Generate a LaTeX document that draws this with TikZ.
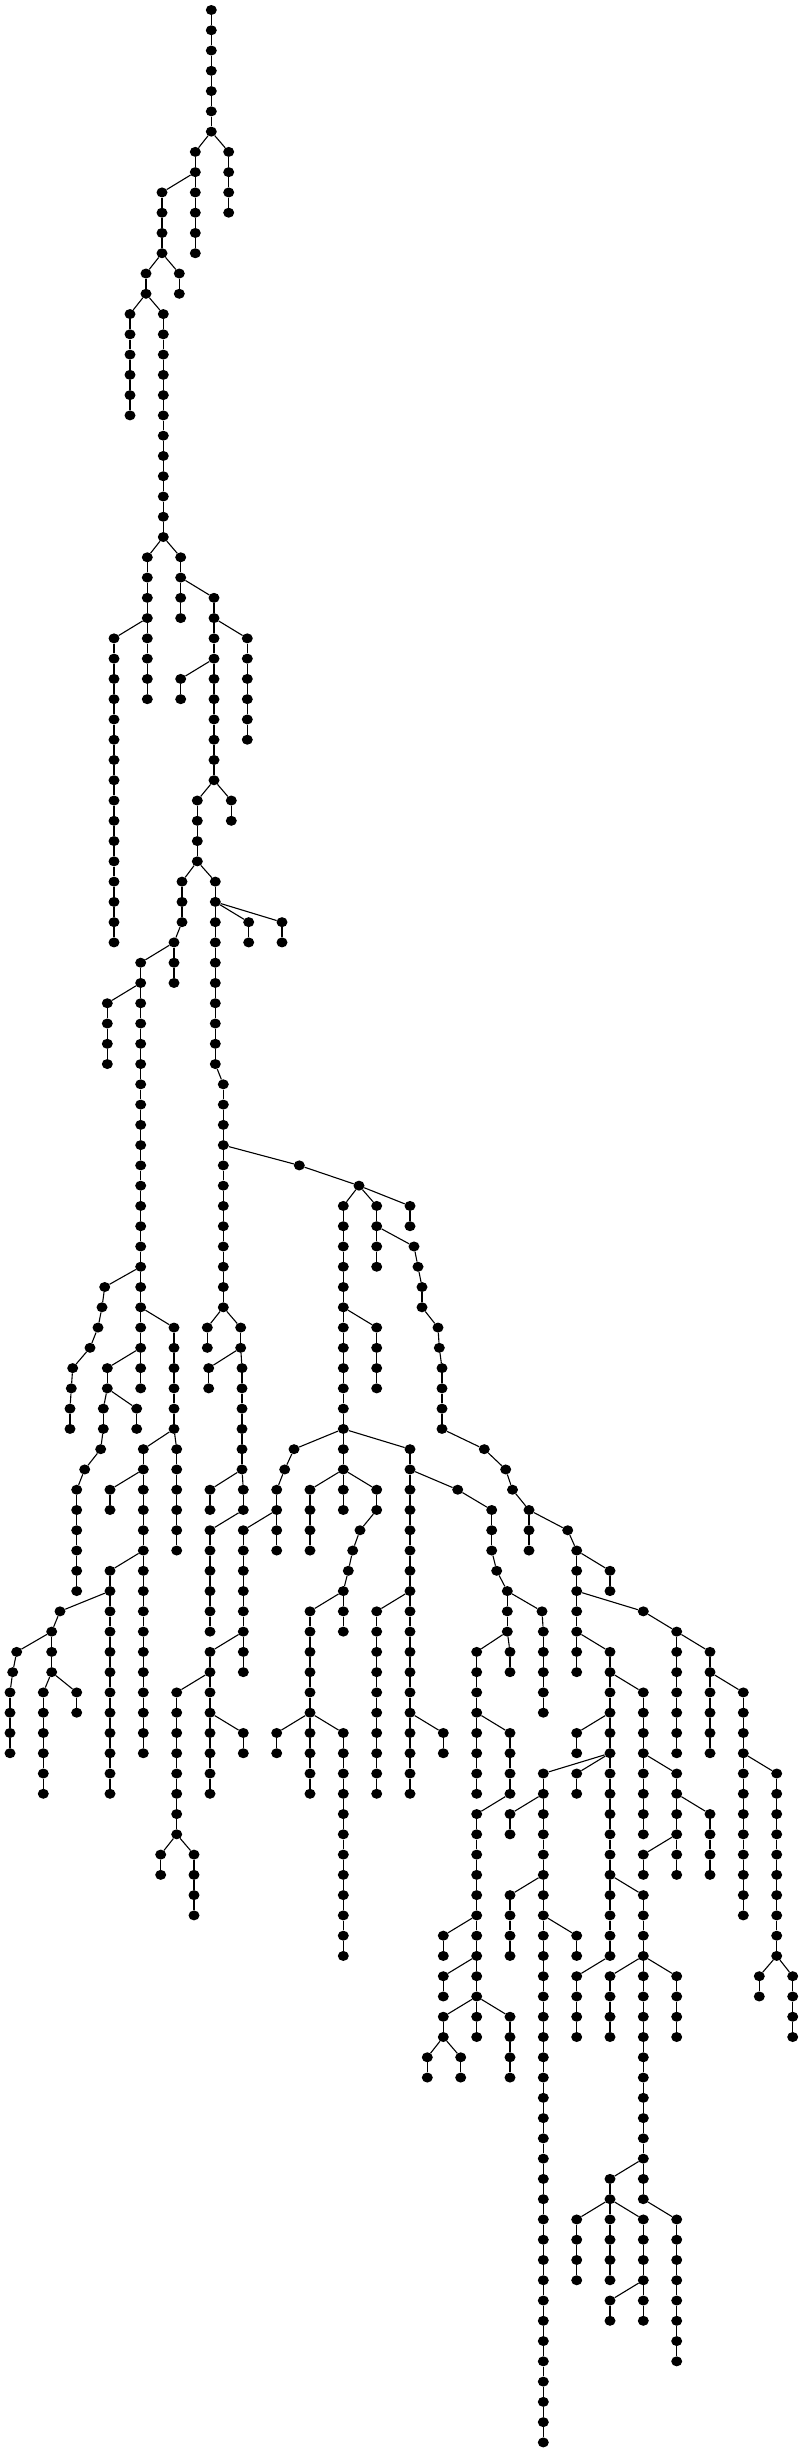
\documentclass[tikz,border=0pt]{standalone}
\usetikzlibrary{shapes.geometric}
\begin{document}
\begin{tikzpicture}[x=1pt,y=1pt,
  dot/.style={ellipse,fill=black,draw=none,inner sep=0pt,minimum width=11pt,minimum height=10pt},
  edge/.style={draw=black,line width=1.1pt}]
\useasboundingbox[fill=white] (0,0) rectangle (803,-2452);
\newcommand\nd[4]{\node[dot] (#1) at (#2,{-10-20.27*#3}) {}; \draw[edge] (#4) -- (#1);}
\newcommand\ch[5]{%
  \foreach \lv in {#4,...,#5}{%
    \node[dot] (#1-\lv) at (#3,{-10-20.27*\lv}) {};%
    \pgfmathtruncatemacro\pd{\lv-1}%
    \ifnum\lv=#4\relax \draw[edge] (#2) -- (#1-\lv);\else \draw[edge] (#1-\pd) -- (#1-\lv);\fi
  }}
\node[dot] (R-0) at (211.3,-10) {};
\ch{R}{R-0}{211.3}{1}{6}
\ch{A}{R-6}{228.7}{7}{10}
\ch{B}{R-6}{195.3}{7}{12}
\ch{C}{B-8}{162}{9}{12}
\ch{D}{C-12}{179.3}{13}{14}
\ch{E}{C-12}{146}{13}{14}
\ch{F}{E-14}{130}{15}{20}
\ch{G}{E-14}{163.3}{15}{26}
\ch{H}{G-26}{147.3}{27}{34}
\ch{I}{G-26}{180.7}{27}{30}
\ch{J}{I-28}{214}{29}{38}
\ch{K}{H-30}{114}{31}{46}
\ch{L}{J-30}{247.3}{31}{36}
\ch{M}{J-32}{180.7}{33}{34}
\ch{N}{J-38}{231.3}{39}{40}
\ch{O}{J-38}{197.3}{39}{42}
\ch{P}{O-42}{215.3}{43}{52}
\ch{Q}{P-44}{248.7}{45}{46}
\ch{S}{P-44}{282}{45}{46}
\ch{T}{P-52}{223.3}{53}{64}
\ch{X}{O-42}{182}{43}{45}
\ch{Y}{X-45}{174}{46}{48}
\ch{Z}{Y-46}{140.7}{47}{68}
\ch{ka}{Z-48}{107.3}{49}{52}
\nd{sk1}{104.7}{63}{Z-62}
\nd{sk2}{102}{64}{sk1}
\nd{sk3}{98}{65}{sk2}
\nd{sk4}{90}{66}{sk3}
\nd{sk5}{72.7}{67}{sk4}
\nd{sk6}{71.3}{68}{sk5}
\ch{sk}{sk6}{70}{69}{70}
\ch{cb}{Z-64}{174}{65}{70}
\ch{cc}{cb-70}{176.7}{71}{76}
\ch{cd}{cb-70}{143.3}{71}{86}
\ch{ce}{cd-72}{110}{73}{74}
\ch{cf}{cd-76}{110}{77}{88}
\nd{cg}{60}{79}{cf-78}
\nd{chh}{51.7}{80}{cg}
\nd{ci1}{16.7}{81}{chh}
\nd{ci2}{12.7}{82}{ci1}
\ch{ci}{ci2}{10}{83}{86}
\ch{cj}{chh}{51.7}{81}{82}
\ch{ck}{cj-82}{43.3}{83}{88}
\ch{cl}{cj-82}{76.7}{83}{84}
\ch{da}{Z-66}{107.3}{67}{68}
\ch{db}{da-68}{136.7}{69}{70}
\ch{dc}{da-68}{103.3}{69}{70}
\nd{dc1}{100.7}{71}{dc-70}
\nd{dc2}{84.7}{72}{dc1}
\ch{dd}{dc2}{76.7}{73}{78}
% right part
\nd{ua}{299.3}{57}{T-56}
\nd{ub}{359}{58}{ua}
\ch{uc}{ub}{343.3}{59}{70}
\ch{ud}{ub}{376.7}{59}{62}
\ch{ue}{ub}{410}{59}{60}
\ch{va}{T-64}{207.3}{65}{66}
\ch{wa}{T-64}{240.7}{65}{66}
\ch{wd}{wa-66}{208.7}{67}{68}
\ch{wb}{wa-66}{242}{67}{72}
\ch{we}{wb-72}{210}{73}{74}
\ch{wc}{wb-72}{243.3}{73}{74}
\ch{wf}{wc-74}{210}{75}{80}
\nd{f1}{414}{61}{ud-60}
\nd{f2}{418}{62}{f1}
\nd{f3}{422}{63}{f2}
\nd{f4}{422}{64}{f3}
\nd{f5}{438}{65}{f4}
\nd{f6}{439.3}{66}{f5}
\ch{f7}{f6}{442}{67}{70}
\nd{f8}{484.3}{71}{f7-70}
\nd{f9}{505.7}{72}{f8}
\nd{f10}{512.5}{73}{f9}
\nd{f11}{529}{74}{f10}
\ch{ug}{f11}{529}{75}{76}
\nd{uh0}{567.7}{75}{f11}
\ch{uh}{uh0}{576.7}{76}{82}
\ch{ui}{uh-76}{610}{77}{78}
\nd{uj0}{643.3}{79}{uh-78}
\nd{uj1}{676.7}{80}{uj0}
\ch{uja}{uj1}{676.7}{81}{86}
\ch{ujb}{uj1}{710}{81}{86}
\ch{ujc}{ujb-82}{743.3}{83}{94}
\ch{ujd}{ujc-86}{776.7}{87}{96}
\ch{uje}{ujd-96}{759.3}{97}{98}
\ch{ujf}{ujd-96}{792.7}{97}{100}
\ch{uk}{uh-80}{610}{81}{96}
\ch{ul}{uk-82}{643.3}{83}{90}
\ch{um}{uk-84}{576.7}{85}{86}
\ch{un}{uk-86}{543.3}{87}{120}
\ch{uo}{uk-86}{576.7}{87}{88}
\ch{up}{uk-92}{643.3}{93}{108}
\ch{uq}{uk-96}{576.7}{97}{100}
\ch{ur}{ul-86}{676.7}{87}{92}
\ch{us}{ur-88}{710}{89}{92}
\ch{ut}{ur-90}{643.3}{91}{92}
\ch{uu}{un-88}{510}{89}{90}
\ch{uv}{un-92}{510}{93}{96}
\ch{uw}{un-94}{576.7}{95}{96}
\ch{ux}{up-96}{610}{97}{100}
\ch{uy}{up-96}{676.7}{97}{100}
\ch{uz}{up-106}{610}{107}{108}
\ch{vz}{up-108}{676.7}{109}{116}
\ch{vb}{uz-108}{576.7}{109}{112}
\ch{vc}{uz-108}{610}{109}{112}
\ch{vd}{uz-108}{643.3}{109}{114}
\ch{ve}{vd-112}{610}{113}{114}
\ch{uca}{uc-64}{376.7}{65}{68}
\nd{b1}{294}{71}{uc-70}
\nd{b2}{284.7}{72}{b1}
\ch{ucb}{b2}{276.7}{73}{76}
\ch{uce}{ucb-74}{243.3}{75}{82}
\ch{ucf}{uce-80}{210}{81}{88}
\ch{ucg}{ucf-82}{176.7}{83}{90}
\ch{uch}{ucf-84}{243.3}{85}{86}
\ch{uci}{ucg-90}{160.7}{91}{92}
\ch{ucj}{ucg-90}{194}{91}{94}
\ch{ucc}{uc-70}{343.3}{71}{72}
\ch{ucca}{ucc-72}{310}{73}{76}
\ch{uccb}{ucc-72}{343.3}{73}{74}
\ch{uccx}{ucc-72}{376.7}{73}{74}
\nd{cc1}{360}{75}{uccx-74}
\nd{cc2}{352.7}{76}{cc1}
\nd{cc3}{348.3}{77}{cc2}
\ch{uccc}{cc3}{343.3}{78}{80}
\ch{uccd}{uccc-78}{310}{79}{84}
\ch{ucce}{uccd-84}{276.7}{85}{86}
\ch{uccf}{uccd-84}{310}{85}{88}
\ch{uccg}{uccd-84}{343.3}{85}{96}
\ch{ucd}{uc-70}{410}{71}{88}
\ch{udb}{ucd-78}{376.7}{79}{88}
\ch{udc}{ucd-84}{443.3}{85}{86}
\nd{a1}{457.7}{73}{ucd-72}
\ch{uda}{a1}{491.7}{74}{76}
\nd{a2}{496.7}{77}{uda-76}
\nd{a3}{507.3}{78}{a2}
\ch{udd}{a3}{507.3}{79}{80}
\nd{e1}{542}{79}{a3}
\ch{ude}{e1}{543.3}{80}{84}
\ch{udf}{udd-80}{476.7}{81}{88}
\ch{udg}{udd-80}{510}{81}{82}
\ch{udh}{udf-84}{510}{85}{88}
\ch{udi}{udh-88}{476.7}{89}{100}
\ch{udj}{udi-94}{443.3}{95}{96}
\ch{udk}{udi-96}{443.3}{97}{98}
\ch{udl}{udi-98}{443.3}{99}{100}
\ch{udm}{udi-98}{510}{99}{102}
\ch{udn}{udl-100}{427.3}{101}{102}
\ch{udo}{udl-100}{460.7}{101}{102}
\end{tikzpicture}
\end{document}
